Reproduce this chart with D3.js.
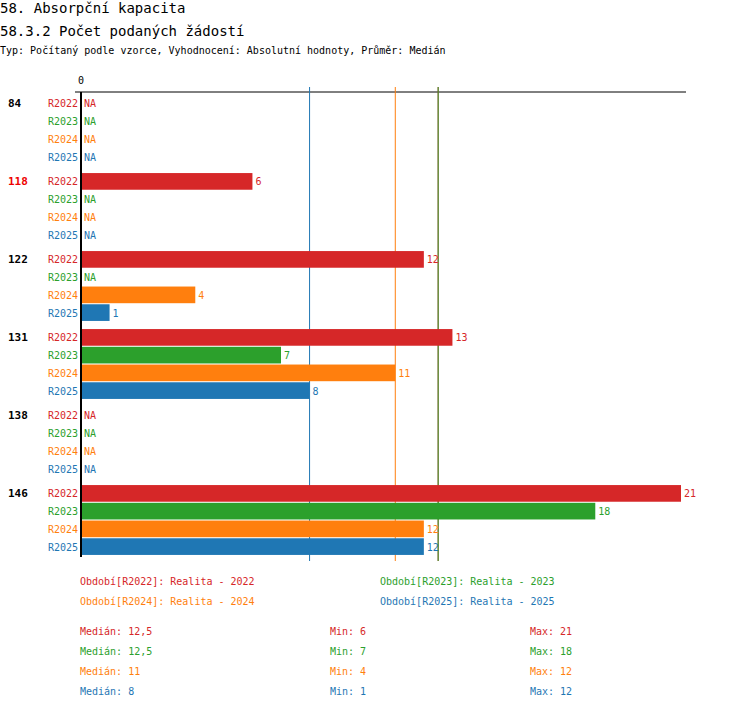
<!DOCTYPE html>
<html><head><meta charset="utf-8">
<script src="https://cdn.jsdelivr.net/npm/d3@7"></script>
<style>body{margin:0;background:#fff}text{font-family:"DejaVu Sans Mono",monospace}</style>
</head><body><svg id="c" width="750" height="710"></svg>
<script>
const categories=["84","118","122","131","138","146"];
const highlight=["118"];
const series=["R2022","R2023","R2024","R2025"];
const colors=["#d62728","#2ca02c","#ff7f0e","#1f77b4"];
const values={
 R2022:[null,6,12,13,null,21],
 R2023:[null,null,null,7,null,18],
 R2024:[null,null,4,11,null,12],
 R2025:[null,null,1,8,null,12]};
const medians=[12.5,12.5,11,8];
const mins=[6,7,4,1];
const maxs=[21,18,12,12];
const legendNames=["Realita - 2022","Realita - 2023","Realita - 2024","Realita - 2025"];

const svg=d3.select("#c");
svg.append("text").attr("x",0).attr("y",13).attr("font-size",14).text("58. Absorpční kapacita");
svg.append("text").attr("x",0).attr("y",36).attr("font-size",14).text("58.3.2 Počet podaných žádostí");
svg.append("text").attr("x",0).attr("y",54).attr("font-size",10).text("Typ: Počítaný podle vzorce, Vyhodnocení: Absolutní hodnoty, Průměr: Medián");

const x=d3.scaleLinear().domain([0,21]).range([81,681]);
const gY=d3.scaleBand().domain(categories).range([91,559]).paddingInner(0).paddingOuter(0);
const rY=d3.scaleBand().domain(series).range([0,72]).padding(0.06);

svg.append("line").attr("x1",75).attr("x2",686).attr("y1",92).attr("y2",92).attr("stroke","#000");
svg.append("text").attr("x",x(0)).attr("y",84).attr("font-size",10).attr("text-anchor","middle").text("0");
// median lines
medians.forEach((m,i)=>svg.append("line").attr("x1",x(m)).attr("x2",x(m)).attr("y1",87).attr("y2",561).attr("stroke",colors[i]).attr("stroke-width",1));

categories.forEach((c,ci)=>{
 const g0=gY(c)+3;
 svg.append("text").attr("x",8).attr("y",g0+rY("R2022")+rY.bandwidth()/2+4).attr("font-size",11).attr("font-weight","bold")
  .attr("fill",highlight.includes(c)?"#e00":"#000").text(c);
 series.forEach((s,si)=>{
  const y=g0+rY(s);const v=values[s][ci];
  svg.append("text").attr("x",78).attr("y",y+rY.bandwidth()/2+4).attr("font-size",10).attr("text-anchor","end").attr("fill",colors[si]).text(s);
  if(v==null){
   svg.append("text").attr("x",84).attr("y",y+rY.bandwidth()/2+4).attr("font-size",10).attr("fill",colors[si]).text("NA");
  } else {
   svg.append("rect").attr("x",x(0)).attr("y",y).attr("width",x(v)-x(0)).attr("height",rY.bandwidth()).attr("fill",colors[si]);
   svg.append("text").attr("x",x(v)+3).attr("y",y+rY.bandwidth()/2+4).attr("font-size",10).attr("fill",colors[si]).text(v);
  }
 });
});
svg.append("line").attr("x1",81).attr("x2",81).attr("y1",92).attr("y2",557).attr("stroke","#000").attr("stroke-width",2);

series.forEach((s,i)=>{
 svg.append("text").attr("x",i%2?380:80).attr("y",i<2?585:605).attr("font-size",10).attr("fill",colors[i]).text(`Období[${s}]: ${legendNames[i]}`);
 const y=635+i*20;
 svg.append("text").attr("x",80).attr("y",y).attr("font-size",10).attr("fill",colors[i]).text("Medián: "+String(medians[i]).replace(".",","));
 svg.append("text").attr("x",330).attr("y",y).attr("font-size",10).attr("fill",colors[i]).text("Min: "+mins[i]);
 svg.append("text").attr("x",530).attr("y",y).attr("font-size",10).attr("fill",colors[i]).text("Max: "+maxs[i]);
});
</script></body></html>
